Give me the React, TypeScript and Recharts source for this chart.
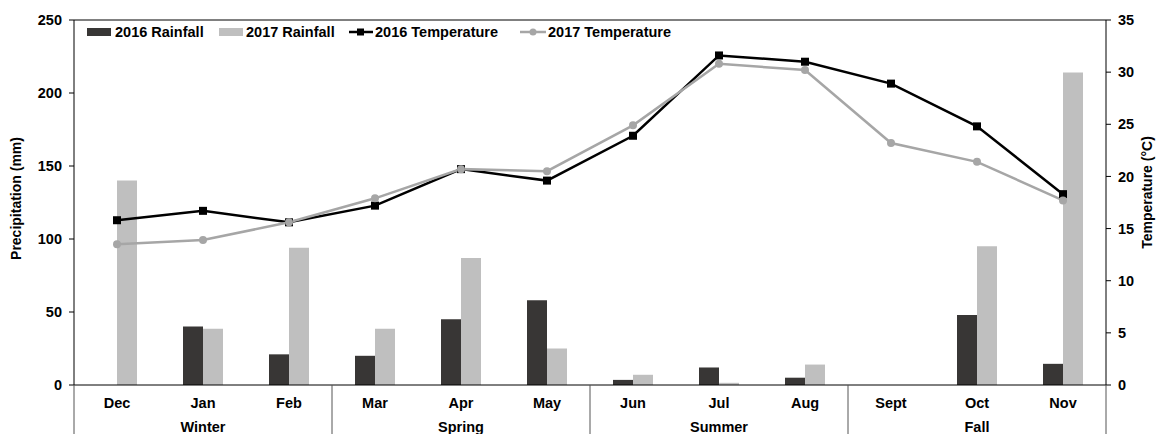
import React from 'react';
import { ComposedChart, Bar, Line, XAxis, YAxis, ReferenceLine, Legend } from 'recharts';

const months = ['Dec', 'Jan', 'Feb', 'Mar', 'Apr', 'May', 'Jun', 'Jul', 'Aug', 'Sept', 'Oct', 'Nov'];
const seasons = ['Winter', 'Spring', 'Summer', 'Fall'];
const rain2016 = [0, 40, 21, 20, 45, 58, 3.5, 12, 5, 0, 48, 14.5];
const rain2017 = [140, 38.5, 94, 38.5, 87, 25, 7, 1.5, 14, 0, 95, 214];
const temp2016 = [15.8, 16.7, 15.6, 17.2, 20.7, 19.6, 23.9, 31.6, 31.0, 28.9, 24.8, 18.3];
const temp2017 = [13.5, 13.9, 15.6, 17.9, 20.7, 20.5, 24.9, 30.8, 30.2, 23.2, 21.4, 17.7];
const leftTicks = [0, 50, 100, 150, 200, 250];
const rightTicks = [0, 5, 10, 15, 20, 25, 30, 35];

const data = months.map((m, i) => ({
  month: m,
  r16: rain2016[i],
  r17: rain2017[i],
  t16: temp2016[i],
  t17: temp2017[i],
}));

const FONT = '"Liberation Sans", Arial, sans-serif';
const DARK = '#383635';
const LIGHT = '#bfbfbf';
const GRAYLINE = '#a6a6a6';
const FS = 14.5;

const MonthTick = (props: any) => {
  const { x, y, payload, index } = props;
  const i = payload && typeof payload.index === 'number' ? payload.index : index;
  const half = payload && payload.offset ? payload.offset : 43;
  return (
    <g>
      <text x={x} y={y + 23} textAnchor="middle" fontFamily={FONT} fontWeight="bold" fontSize={FS} fill="#000">
        {payload.value}
      </text>
      {i % 3 === 0 && (
        <line x1={x - half} x2={x - half} y1={y} y2={y + 50} stroke="#555" strokeWidth={1} />
      )}
      {i === months.length - 1 && (
        <line x1={x + half} x2={x + half} y1={y} y2={y + 50} stroke="#555" strokeWidth={1} />
      )}
      {i % 3 === 1 && (
        <text x={x} y={y + 47} textAnchor="middle" fontFamily={FONT} fontWeight="bold" fontSize={FS} fill="#000">
          {seasons[Math.floor(i / 3)]}
        </text>
      )}
    </g>
  );
};

const SquareDot = (props: any) => {
  const { cx, cy } = props;
  if (cx == null || cy == null) return null;
  return <rect x={cx - 4} y={cy - 4} width={8} height={8} fill="#000" />;
};

const CircleDot = (props: any) => {
  const { cx, cy } = props;
  if (cx == null || cy == null) return null;
  return <circle cx={cx} cy={cy} r={4} fill={GRAYLINE} />;
};

const legendText = { fontFamily: FONT, fontWeight: 'bold' as const, fontSize: FS, fill: '#000' };

const LegendContent = () => (
  <svg width={620} height={22} style={{ display: 'block' }}>
    <rect x={7} y={6} width={24} height={8} fill={DARK} />
    <text x={35} y={15} {...legendText}>2016 Rainfall</text>
    <rect x={139} y={6} width={24} height={8} fill={LIGHT} />
    <text x={166} y={15} {...legendText}>2017 Rainfall</text>
    <line x1={269} x2={293} y1={10} y2={10} stroke="#000" strokeWidth={2.5} />
    <rect x={277} y={6.5} width={7} height={7} fill="#000" />
    <text x={295} y={15} {...legendText}>2016 Temperature</text>
    <line x1={440} x2={466} y1={10} y2={10} stroke={GRAYLINE} strokeWidth={2.5} />
    <circle cx={453} cy={10} r={3.5} fill={GRAYLINE} />
    <text x={468} y={15} {...legendText}>2017 Temperature</text>
  </svg>
);

const tickStyle = { fontFamily: FONT, fontWeight: 'bold' as const, fontSize: FS, fill: '#000' };

export default function App() {
  return (
    <div style={{ position: 'absolute', left: 0, top: 0, width: 1159, height: 434, background: '#fff' }}>
      <ComposedChart
        width={1159}
        height={434}
        data={data}
        margin={{ top: 20, right: 0, left: 0, bottom: 0 }}
        barGap={0}
        barSize={20}
      >
        <XAxis
          dataKey="month"
          xAxisId={0}
          height={49}
          tickLine={false}
          tickSize={0}
          tickMargin={0}
          interval={0}
          axisLine={{ stroke: '#000' }}
          tick={<MonthTick />}
        />
        <YAxis
          yAxisId="left"
          orientation="left"
          width={74}
          domain={[0, 250]}
          ticks={leftTicks}
          tickSize={5}
          tickMargin={7}
          tick={tickStyle}
          axisLine={{ stroke: '#000' }}
          tickLine={{ stroke: '#000' }}
          label={(p: any) => {
            const vb = p.viewBox || { x: 0, y: 20, width: 74, height: 365 };
            const cy = vb.y + vb.height / 2 - 4;
            return (
              <text
                x={16}
                y={cy}
                transform={`rotate(-90, 16, ${cy})`}
                textAnchor="middle"
                dominantBaseline="central"
                fontFamily={FONT}
                fontWeight="bold"
                fontSize={14}
                fill="#000"
              >
                Precipitation (mm)
              </text>
            );
          }}
        />
        <YAxis
          yAxisId="right"
          orientation="right"
          width={53}
          domain={[0, 35]}
          ticks={rightTicks}
          tickSize={5}
          tickMargin={7}
          tick={tickStyle}
          axisLine={{ stroke: '#000' }}
          tickLine={{ stroke: '#000' }}
          label={(p: any) => {
            const vb = p.viewBox || { x: 1106, y: 20, width: 53, height: 365 };
            const cy = vb.y + vb.height / 2 - 10;
            return (
              <text
                x={1147}
                y={cy}
                transform={`rotate(-90, 1147, ${cy})`}
                textAnchor="middle"
                dominantBaseline="central"
                fontFamily={FONT}
                fontWeight="bold"
                fontSize={14}
                fill="#000"
              >
                Temperature (°C)
              </text>
            );
          }}
        />
        <ReferenceLine yAxisId="left" y={250} stroke="#000" strokeWidth={1} />
        <Legend
          layout="horizontal"
          verticalAlign="middle"
          align="center"
          wrapperStyle={{ position: 'absolute', top: 22, left: 80, width: 620, height: 22 }}
          content={<LegendContent />}
        />
        <Bar yAxisId="left" dataKey="r16" name="2016 Rainfall" fill={DARK} isAnimationActive={false} />
        <Bar yAxisId="left" dataKey="r17" name="2017 Rainfall" fill={LIGHT} isAnimationActive={false} />
        <Line
          yAxisId="right"
          dataKey="t16"
          name="2016 Temperature"
          stroke="#000"
          strokeWidth={2.5}
          dot={<SquareDot />}
          activeDot={false}
          isAnimationActive={false}
        />
        <Line
          yAxisId="right"
          dataKey="t17"
          name="2017 Temperature"
          stroke={GRAYLINE}
          strokeWidth={2.5}
          dot={<CircleDot />}
          activeDot={false}
          isAnimationActive={false}
        />
      </ComposedChart>
    </div>
  );
}
